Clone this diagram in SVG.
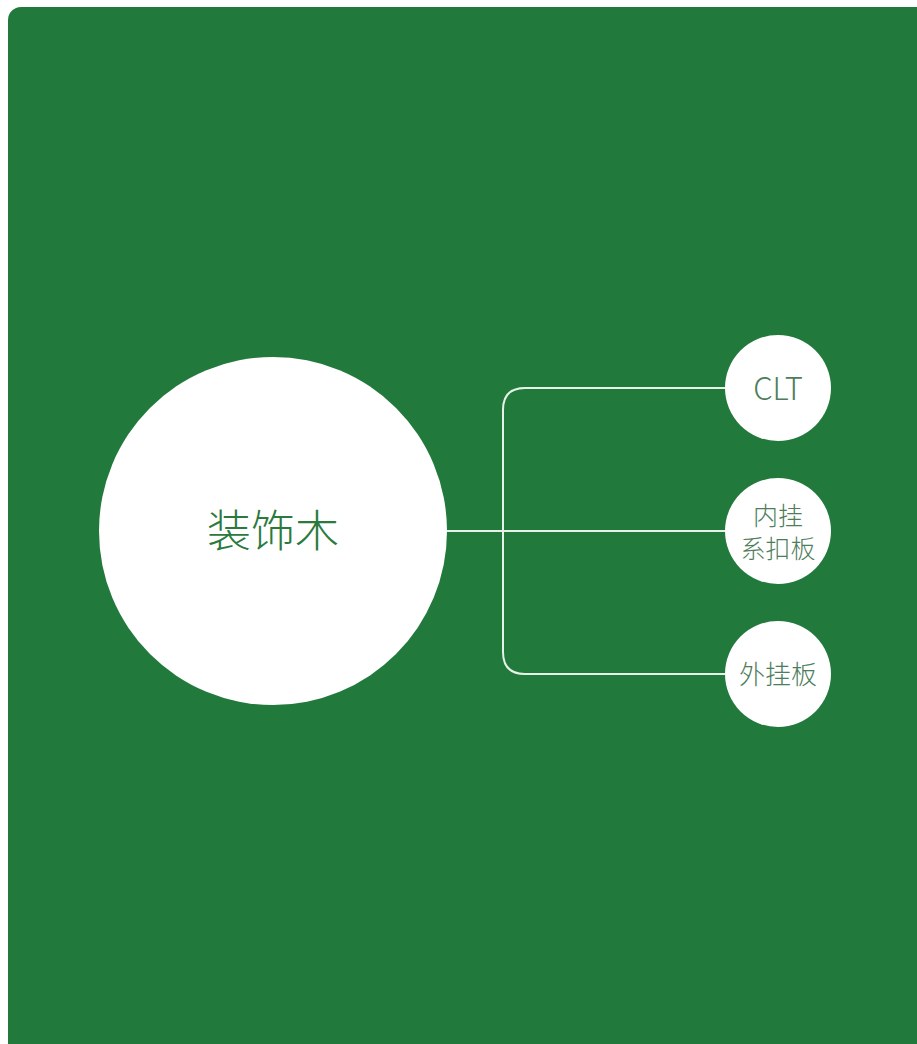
<svg xmlns="http://www.w3.org/2000/svg" width="917" height="1044" viewBox="0 0 917 1044">
<style>
.bg{fill:#22793c}
.node{fill:#ffffff}
.conn{fill:none;stroke:#e6f2e6;stroke-width:2}
.main{font-family:"Noto Sans CJK SC","Noto Sans",sans-serif;font-size:44px;fill:#2a7a3e;text-anchor:middle;font-weight:300}
.sub{font-family:"Noto Sans CJK SC","Noto Sans",sans-serif;font-size:26px;fill:#4e7d5b;text-anchor:middle;font-weight:300}
.two{font-size:25px}
.latin{font-family:"Noto Sans CJK SC","Noto Sans",sans-serif;font-size:31px;fill:#4e7d5b;text-anchor:middle;font-weight:300}
</style>
<rect width="917" height="1044" fill="#ffffff"/>
<rect class="bg" x="8" y="7" width="940" height="1080" rx="13"/>
<g id="connectors">
<path class="conn" d="M447 531 H725"/>
<path class="conn" d="M725 388 H525 Q503 388 503 410 V652 Q503 674 525 674 H725"/>
</g>
<g id="node-main">
<circle class="node" cx="273" cy="531" r="174"/>
<text class="main" x="273" y="547">装饰木</text>
</g>
<g id="node-clt">
<circle class="node" cx="778" cy="388" r="53"/>
<text class="latin" x="778" y="400">CLT</text>
</g>
<g id="node-inner">
<circle class="node" cx="778" cy="531" r="53"/>
<text class="sub two" x="778" y="525">内挂</text>
<text class="sub two" x="778" y="558">系扣板</text>
</g>
<g id="node-outer">
<circle class="node" cx="778" cy="674" r="53"/>
<text class="sub" x="778" y="684">外挂板</text>
</g>
</svg>
